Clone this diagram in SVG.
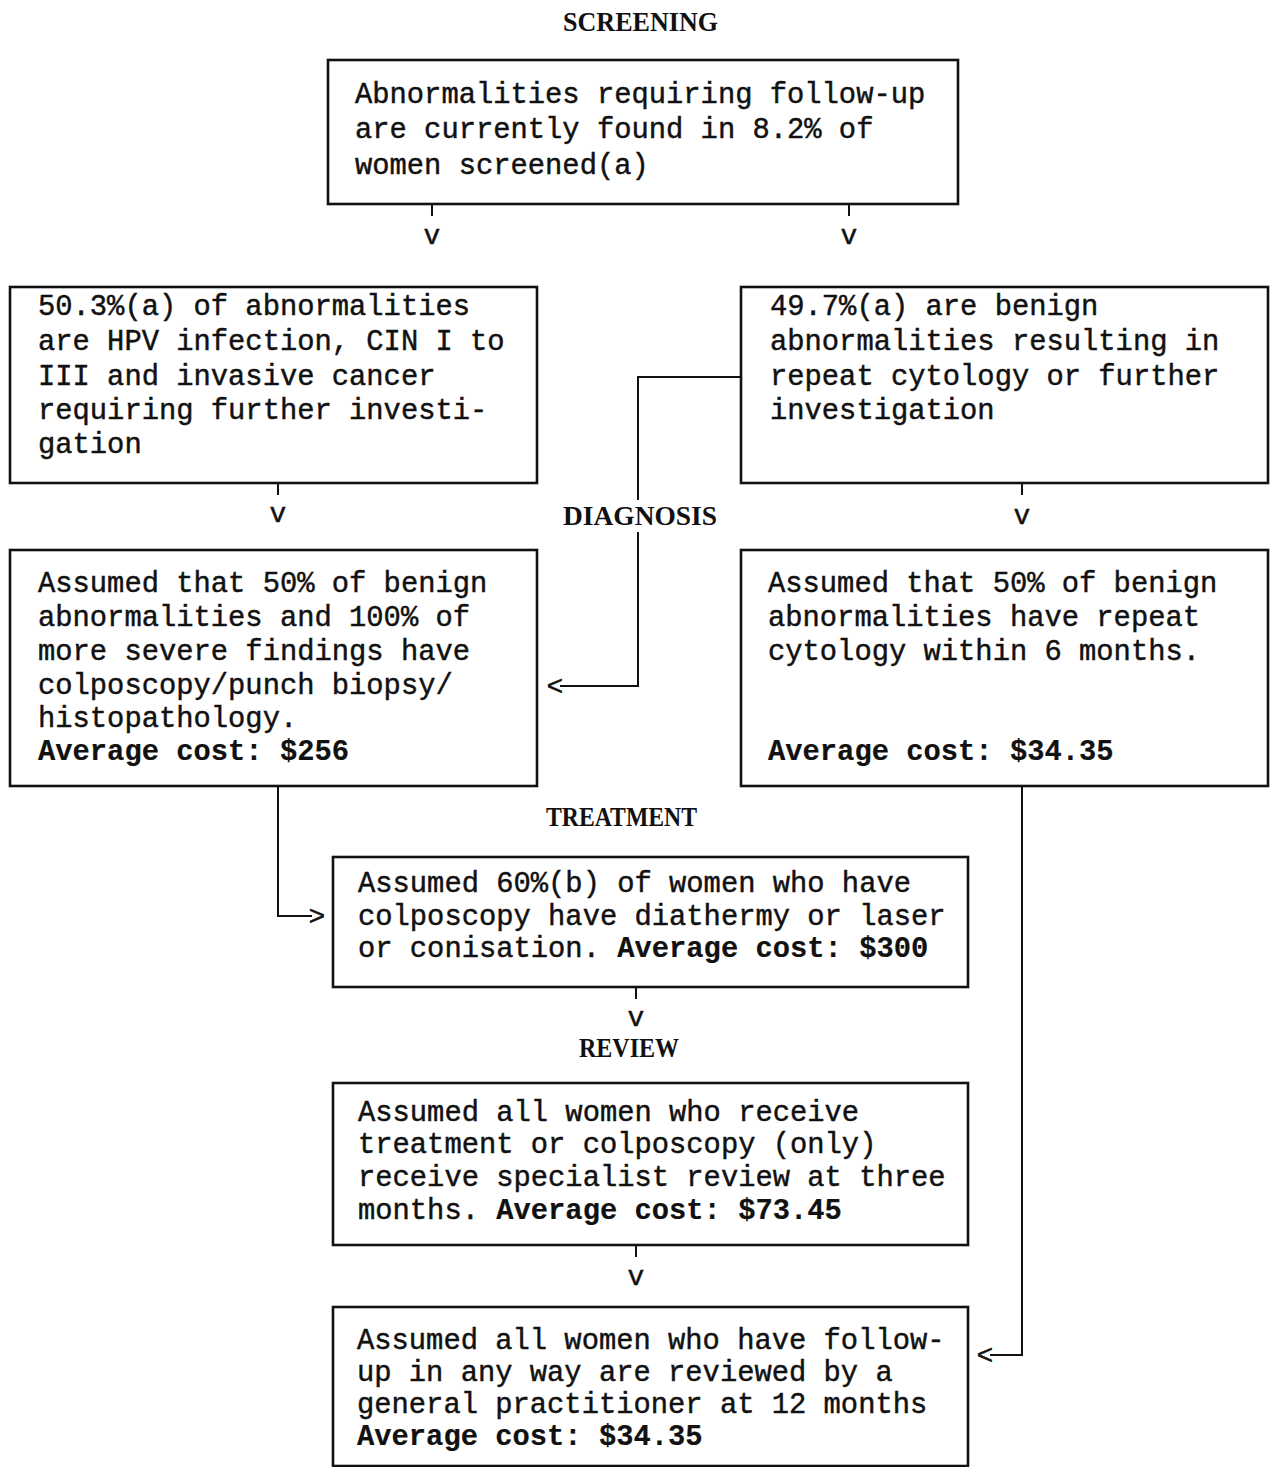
<svg xmlns="http://www.w3.org/2000/svg" width="1270" height="1467" viewBox="0 0 1270 1467">
<style>
.box{fill:#fff;stroke:#111;stroke-width:2.6}
.t{font-family:"Liberation Mono","DejaVu Sans Mono",monospace;font-size:28.8px;fill:#111;stroke:#111;stroke-width:0.45}
.b{font-weight:bold;stroke-width:0.2}
.h{font-family:"Liberation Serif","DejaVu Serif",serif;font-weight:bold;font-size:28px;fill:#111}
.c{fill:none;stroke:#111;stroke-width:2}
.a{font-family:"Liberation Mono","DejaVu Sans Mono",monospace;font-size:28px;fill:#111;stroke:#111;stroke-width:0.45;text-anchor:middle}
</style>
<rect width="1270" height="1467" fill="#fff"/>
<g id="headings">
<text class="h" x="563" y="31" textLength="155" lengthAdjust="spacingAndGlyphs">SCREENING</text>
<text class="h" x="563" y="525" textLength="154" lengthAdjust="spacingAndGlyphs">DIAGNOSIS</text>
<text class="h" x="546" y="826" textLength="151" lengthAdjust="spacingAndGlyphs">TREATMENT</text>
<text class="h" x="579" y="1057" textLength="100" lengthAdjust="spacingAndGlyphs">REVIEW</text>
</g>
<g id="connectors">
<path class="c" d="M432,204 V216"/><text class="a" x="432" y="244">v</text>
<path class="c" d="M849,204 V216"/><text class="a" x="849" y="244">v</text>
<path class="c" d="M278,483 V495"/><text class="a" x="278" y="522">v</text>
<path class="c" d="M1022,483 V495"/><text class="a" x="1022" y="524">v</text>
<path class="c" d="M741,377 H638 V500 M638,532 V686 H560"/><text class="a" x="555" y="695">&lt;</text>
<path class="c" d="M278,786 V916 H312"/><text class="a" x="317" y="925">&gt;</text>
<path class="c" d="M636,987 V999"/><text class="a" x="636" y="1026">v</text>
<path class="c" d="M636,1245 V1257"/><text class="a" x="636" y="1285">v</text>
<path class="c" d="M1022,786 V1355 H990"/><text class="a" x="985" y="1364">&lt;</text>
</g>
<g id="n1">
<rect class="box" x="328" y="60" width="630" height="144"/>
<text class="t" x="355" y="103">Abnormalities requiring follow-up</text>
<text class="t" x="355" y="138">are currently found in 8.2% of</text>
<text class="t" x="355" y="174">women screened(a)</text>
</g>
<g id="n2">
<rect class="box" x="10" y="287" width="527" height="196"/>
<text class="t" x="38" y="315">50.3%(a) of abnormalities</text>
<text class="t" x="38" y="350">are HPV infection, CIN I to</text>
<text class="t" x="38" y="385">III and invasive cancer</text>
<text class="t" x="38" y="419">requiring further investi-</text>
<text class="t" x="38" y="453">gation</text>
</g>
<g id="n3">
<rect class="box" x="741" y="287" width="527" height="196"/>
<text class="t" x="770" y="315">49.7%(a) are benign</text>
<text class="t" x="770" y="350">abnormalities resulting in</text>
<text class="t" x="770" y="385">repeat cytology or further</text>
<text class="t" x="770" y="419">investigation</text>
</g>
<g id="n4">
<rect class="box" x="10" y="550" width="527" height="236"/>
<text class="t" x="38" y="592">Assumed that 50% of benign</text>
<text class="t" x="38" y="626">abnormalities and 100% of</text>
<text class="t" x="38" y="660">more severe findings have</text>
<text class="t" x="38" y="694">colposcopy/punch biopsy/</text>
<text class="t" x="38" y="727">histopathology.</text>
<text class="t b" x="38" y="760">Average cost: $256</text>
</g>
<g id="n5">
<rect class="box" x="741" y="550" width="527" height="236"/>
<text class="t" x="768" y="592">Assumed that 50% of benign</text>
<text class="t" x="768" y="626">abnormalities have repeat</text>
<text class="t" x="768" y="660">cytology within 6 months.</text>
<text class="t b" x="768" y="760">Average cost: $34.35</text>
</g>
<g id="n6">
<rect class="box" x="333" y="857" width="635" height="130"/>
<text class="t" x="358" y="892">Assumed 60%(b) of women who have</text>
<text class="t" x="358" y="925">colposcopy have diathermy or laser</text>
<text class="t" x="358" y="957">or conisation. <tspan class="b">Average cost: $300</tspan></text>
</g>
<g id="n7">
<rect class="box" x="333" y="1083" width="635" height="162"/>
<text class="t" x="358" y="1121">Assumed all women who receive</text>
<text class="t" x="358" y="1153">treatment or colposcopy (only)</text>
<text class="t" x="358" y="1186">receive specialist review at three</text>
<text class="t" x="358" y="1219">months. <tspan class="b">Average cost: $73.45</tspan></text>
</g>
<g id="n8">
<rect class="box" x="333" y="1307" width="635" height="159"/>
<text class="t" x="357" y="1349">Assumed all women who have follow-</text>
<text class="t" x="357" y="1381">up in any way are reviewed by a</text>
<text class="t" x="357" y="1413">general practitioner at 12 months</text>
<text class="t b" x="357" y="1445">Average cost: $34.35</text>
</g>
</svg>
